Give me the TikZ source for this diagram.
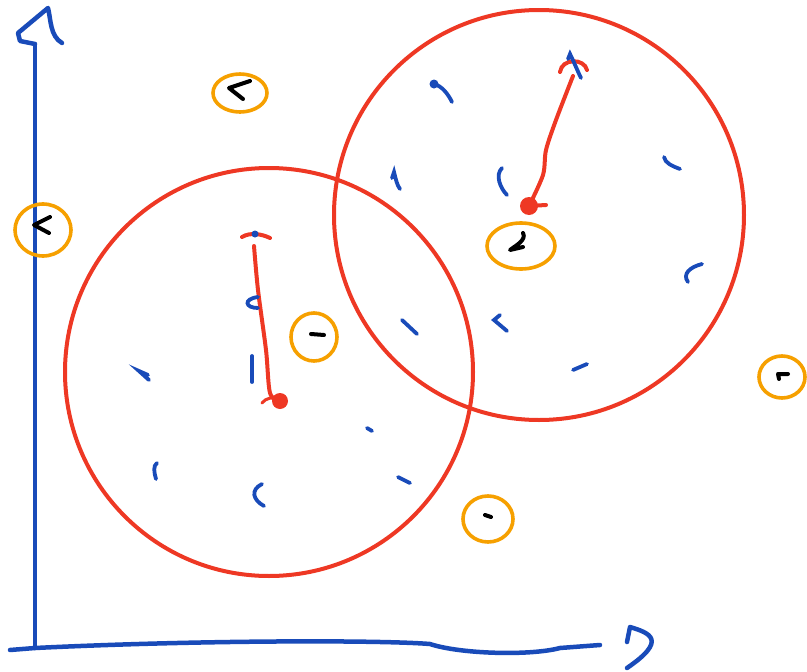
\documentclass[tikz,border=0pt]{standalone}
\usepackage{tikz}
\usetikzlibrary{calc}
\definecolor{PenBlue}{RGB}{25,75,185}
\definecolor{PenRed}{RGB}{238,56,36}
\definecolor{PenOrange}{RGB}{246,160,0}

\begin{document}
\begin{tikzpicture}[x=1pt, y=-1pt,
		axisline/.style={PenBlue, line width=4.5pt, line cap=round, line join=round},
		ring/.style={PenRed, line width=4pt},
		halo/.style={PenOrange, line width=3.6pt},
		tick/.style={PenBlue, line width=3.8pt, line cap=round},
		blackpt/.style={black, line width=4pt, line cap=round, line join=round},
		link/.style={PenRed, line width=4pt, line cap=round}]
		\useasboundingbox (0,0) rectangle (807,672);
		
		% axes
		\coordinate (O) at (35,648);
		\coordinate (Ytop) at (35,44);
		\coordinate (Xend) at (600,645);
		\draw[axisline] (O) -- (Ytop);
		\draw[axisline] (Ytop) -- (20,41) -- (18,33) -- (48,8) .. controls (51,20) and (50,36) .. (62,43);
		\draw[axisline] (10,650) -- (O) .. controls (200,640) and (380,640) .. (430,644)
			.. controls (460,654) and (530,656) .. (560,648) -- (Xend);
		\draw[axisline] (627,642) -- (630,627) .. controls (650,633) and (668,640) .. (627,668);
		
		% the two clusters
		\coordinate (C1) at (269,372);
		\coordinate (C2) at (539,215);
		\draw[ring] (C1) circle (204);
		\draw[ring] (C2) circle (205);
		
		% centroid moves
		\coordinate (S1) at (254,246);
		\coordinate (E1) at (280,401);
		\draw[link] (242,237) .. controls (250,232) and (262,234) .. (270,238);
		\draw[link] plot[smooth] coordinates {(S1) (258,290) (266,350) (270,393) (E1)};
		\fill[PenRed] (E1) circle (8);
		\draw[link, line width=3pt] (262,403) .. controls (266,398) and (272,396) .. (E1);
		
		\coordinate (S2) at (573,76);
		\coordinate (E2) at (529,206);
		\draw[link] (560,72) .. controls (562,58) and (584,58) .. (587,70);
		\draw[link] plot[smooth] coordinates {(S2) (556,120) (546,150) (543,175) (E2)};
		\fill[PenRed] (E2) circle (9);
		\draw[link] (E2) -- (546,205);
		
		% points, blue
		\fill[PenBlue] (255,234) circle (3.5);
		\draw[tick] (258,297) .. controls (243,299) and (245,308) .. (258,308);
		\draw[tick] (252,356) -- (252,382);
		\draw[tick] (148,375) -- (139,371) -- (149,380);
		\draw[tick] (157,463) .. controls (153,466) and (154,472) .. (156,479);
		\draw[tick] (262,484) .. controls (250,490) and (253,500) .. (264,506);
		\draw[tick] (367,428) -- (372,431);
		\draw[tick] (398,477) -- (410,483);
		\draw[tick] (402,320) -- (417,334);
		\fill[PenBlue] (434,84) circle (4.5);
		\draw[tick] (434,84) .. controls (442,86) and (448,94) .. (452,102);
		\draw[tick] (392,178) -- (394,172) .. controls (396,180) and (397,185) .. (400,189);
		\draw[tick] (502,168) .. controls (495,175) and (500,188) .. (507,195);
		\draw[tick] (568,59) -- (570,54) .. controls (574,62) and (578,72) .. (581,78);
		\draw[tick] (664,157) .. controls (665,163) and (672,166) .. (680,169);
		\draw[tick] (702,264) .. controls (690,267) and (682,274) .. (688,282);
		\draw[tick] (500,315) -- (494,320) -- (507,331);
		\draw[tick] (573,370) -- (587,364);
		
		% points, ringed
		\draw[halo] (240,93) ellipse (27 and 19);
		\draw[blackpt] (250,81) -- (229,88) -- (243,99);
		\draw[halo] (43,230) ellipse (28 and 26);
		\draw[blackpt] (50,217) -- (34,225) -- (49,233);
		\draw[halo] (521,246) ellipse (34 and 23);
		\draw[blackpt] (523,233) .. controls (527,240) and (515,246) .. (510,250) -- (523,247);
		\draw[halo] (314,337) ellipse (23 and 24);
		\draw[blackpt] (311,334) -- (324,335);
		\draw[halo] (782,377) ellipse (23 and 21);
		\draw[blackpt] (788,374) -- (778,374) -- (779,379);
		\draw[halo] (488,519) ellipse (25 and 23);
		\draw[blackpt] (485,515) -- (491,517);
	\end{tikzpicture}
\end{document}
